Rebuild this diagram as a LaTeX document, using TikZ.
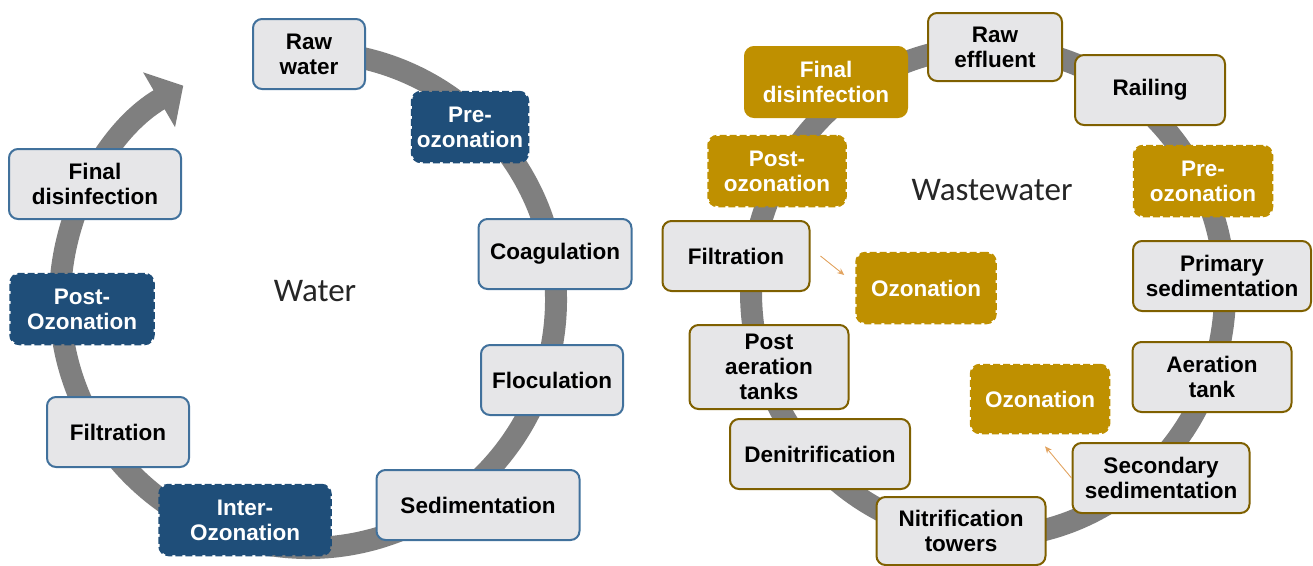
\documentclass[tikz,border=0pt]{standalone}
\usepackage{fontspec}
\setmainfont{Liberation Sans}
\newfontfamily\labelfont{Carlito}
\usetikzlibrary{arrows.meta}
\definecolor{ringgray}{HTML}{7F7F7F}
\definecolor{boxfill}{HTML}{E6E6E8}
\definecolor{waterline}{HTML}{41719C}
\definecolor{waterdark}{HTML}{1F4E79}
\definecolor{goldfill}{HTML}{BF9000}
\definecolor{goldline}{HTML}{7F6000}
\definecolor{ozarrowc}{HTML}{E2A461}
\definecolor{labelgray}{HTML}{262626}

\begin{document}
\begin{tikzpicture}[
    x=1pt, y=-1pt,
    ring/.style={draw=ringgray, line width=22pt},
    box/.style={rectangle, rounded corners=9pt, fill=boxfill, line width=2pt, align=center,
        inner sep=3pt, minimum height=70pt, text=black,
        font=\fontsize{22.5}{25}\selectfont\bfseries},
    wbox/.style={box, draw=waterline},
    wozone/.style={box, fill=waterdark, draw=waterdark, text=white, dash pattern=on 7pt off 3pt, line width=2.5pt},
    ebox/.style={box, draw=goldline},
    eozone/.style={box, fill=goldfill, draw=goldfill, text=white, dash pattern=on 7pt off 3pt, line width=2.5pt},
    efinal/.style={box, fill=goldfill, draw=goldfill, text=white},
    title/.style={font=\labelfont\fontsize{33}{36}\selectfont, text=labelgray},
    ozarrow/.style={-{Stealth[length=7pt, width=6pt]}, draw=ozarrowc, line width=0.9pt}
]
    \useasboundingbox (0,0) rectangle (1313,565);

    % Rings
    \draw[ring, -{Triangle[width=62pt, length=28pt]}] (308,300) ++(-85:248) arc[start angle=-85, end angle=239.8, radius=248];
    \draw[ring] (988,292) ellipse[x radius=237, y radius=245];

    % Water nodes
    \node[wbox, minimum width=112pt] (raw) at (309,54) {Raw\\water};
    \node[wozone, minimum width=116pt] (preozw) at (470,127) {Pre-\\ozonation};
    \node[wbox, minimum width=153pt] (coag) at (555,254) {Coagulation};
    \node[wbox, minimum width=142pt] (floc) at (552,380) {Floculation};
    \node[wbox, minimum width=203pt] (sedim) at (478,505) {Sedimentation};
    \node[wozone, minimum width=171pt] (interoz) at (245,520) {Inter-\\Ozonation};
    \node[wbox, minimum width=142pt] (filtw) at (118,432) {Filtration};
    \node[wozone, minimum width=143pt] (postozw) at (82,309) {Post-\\Ozonation};
    \node[wbox, minimum width=172pt] (finalw) at (95,184) {Final\\disinfection};
    \node[title] (water) at (315,291) {Water};

    % Wastewater nodes
    \node[ebox, minimum width=134pt, minimum height=68pt] (rawe) at (995,47) {Raw\\effluent};
    \node[ebox, minimum width=150pt] (railing) at (1150,90) {Railing};
    \node[eozone, minimum width=138pt] (preoze) at (1203,181) {Pre-\\ozonation};
    \node[ebox, minimum width=178pt] (primsed) at (1222,276) {Primary\\sedimentation};
    \node[ebox, minimum width=159pt] (aeration) at (1212,377) {Aeration\\tank};
    \node[eozone, minimum width=138pt, minimum height=68pt] (ozone2) at (1040,399) {Ozonation};
    \node[ebox, minimum width=177pt] (secsed) at (1161,478) {Secondary\\sedimentation};
    \node[ebox, minimum width=169pt, minimum height=68pt] (nitri) at (961,531) {Nitrification\\towers};
    \node[ebox, minimum width=180pt] (denitri) at (820,454) {Denitrification};
    \node[ebox, minimum width=159pt, minimum height=84pt] (postaer) at (769,367) {Post\\aeration\\tanks};
    \node[ebox, minimum width=147pt] (filte) at (736,256) {Filtration};
    \node[eozone, minimum width=139pt] (ozone1) at (926,288) {Ozonation};
    \node[eozone, minimum width=137pt] (postoze) at (777,171) {Post-\\ozonation};
    \node[efinal, minimum width=162pt] (finale) at (826,82) {Final\\disinfection};
    \node[title] (wastewater) at (992,190) {Wastewater};

    % Side arrows
    \draw[ozarrow] ([xshift=10pt]filte.east) -- ([xshift=-11pt, yshift=13pt]ozone1.west);
    \draw[ozarrow] (secsed.west) -- ([xshift=5pt, yshift=-12pt]ozone2.south);
\end{tikzpicture}
\end{document}
